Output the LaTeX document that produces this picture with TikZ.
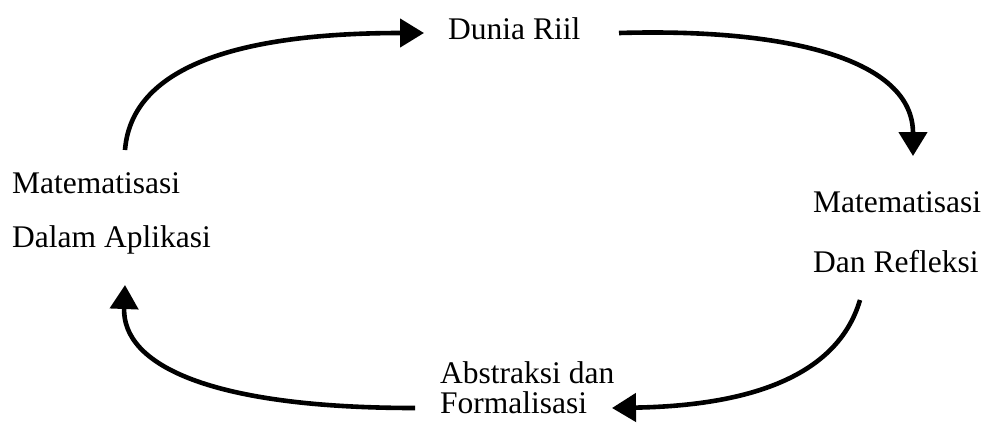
\documentclass[tikz,border=0pt]{standalone}
\usepackage{fontspec}
\setmainfont{Liberation Serif}
\usetikzlibrary{arrows.meta}
\begin{document}
\begin{tikzpicture}[x=1pt,y=-1pt,
  label/.style={anchor=base west,inner sep=0pt,font=\fontsize{31.5}{38}\selectfont},
  flow/.style={line width=4.6pt,-{Triangle[length=24pt,width=28pt]}}]
\useasboundingbox (0,0) rectangle (983,424);

% stage labels
\node[label] (riil)  at (448,39)  {Dunia Riil};
\node[label] (apl1)  at (12,193)  {Matematisasi};
\node[label] (apl2)  at (12,247)  {Dalam Aplikasi};
\node[label] (ref1)  at (813,212) {Matematisasi};
\node[label] (ref2)  at (813,272) {Dan Refleksi};
\node[label] (abs1)  at (440,383) {Abstraksi dan};
\node[label] (abs2)  at (440,413) {Formalisasi};

% connector ends
\coordinate (aplTop)  at (125,150);
\coordinate (aplBot)  at (125,285);
\coordinate (riilIn)  at (424,33);
\coordinate (riilOut) at (619,33);
\coordinate (refIn)   at (913,156);
\coordinate (refOut)  at (860,300);
\coordinate (absIn)   at (612,408);
\coordinate (absOut)  at (415,408);

% cycle arrows
\draw[flow] (aplTop) .. controls (132,62) and (250,33) .. (riilIn);
\draw[flow] (riilOut) .. controls (790,28) and (913,60) .. (refIn);
\draw[flow] (refOut) .. controls (835,385) and (730,406) .. (absIn);
\draw[flow] (absOut) .. controls (210,408) and (122,365) .. (aplBot);
\end{tikzpicture}
\end{document}
